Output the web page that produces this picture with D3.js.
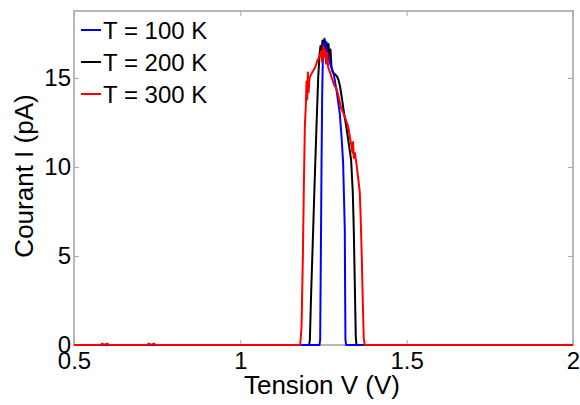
<!DOCTYPE html>
<html><head><meta charset="utf-8">
<script src="https://cdn.jsdelivr.net/npm/d3@7/dist/d3.min.js"></script>
<style>body{margin:0;background:#fff}svg{display:block}text{font-family:"Liberation Sans",Arial,sans-serif}</style>
</head><body>
<svg id="c" width="580" height="405"></svg>
<script>
const xTicks = [0.5, 1, 1.5, 2];
const yTicks = [0, 5, 10, 15];
const seriesNames = ["T = 100 K", "T = 200 K", "T = 300 K"];
const seriesColors = ["#0000ff", "#000000", "#ff0000"];

const t100 = [[0.5,0],[1.238,0],[1.240,0.3],[1.242,5],[1.244,10],[1.246,14],[1.248,16],[1.251,16.9],[1.254,17.1],[1.257,16.9],[1.262,16.4],[1.270,15.8],[1.281,15.2],[1.290,14.2],[1.299,13.0],[1.305,11.5],[1.309,10.2],[1.312,8],[1.314,6.5],[1.315,3],[1.316,0.3],[1.318,0],[2,0]];
const t200 = [[0.5,0],[1.207,0],[1.209,0.3],[1.213,3],[1.219,6.5],[1.224,9.5],[1.229,12.3],[1.234,15.0],[1.238,16.3],[1.241,16.8],[1.244,16.4],[1.247,17.1],[1.250,16.6],[1.253,17.2],[1.256,16.5],[1.259,17.0],[1.262,16.4],[1.265,16.9],[1.268,16.2],[1.271,16.6],[1.274,15.6],[1.278,15.3],[1.285,15.2],[1.290,15.1],[1.295,14.9],[1.300,14.5],[1.305,13.9],[1.312,13.0],[1.319,12.2],[1.326,11.3],[1.333,10.4],[1.338,8.6],[1.341,6.5],[1.344,3.5],[1.347,0.5],[1.349,0],[2,0]];
const t300 = [[0.5,0],[0.58,0],[0.585,0.08],[0.59,0],[0.60,0.08],[0.605,0],[0.72,0],[0.725,0.08],[0.73,0],[0.74,0.08],[0.745,0],[1.180,0],[1.184,1],[1.188,5],[1.191,9],[1.194,12.3],[1.197,13.5],[1.199,14.8],[1.201,13.8],[1.203,15.3],[1.205,14.2],[1.208,15.0],[1.213,15.2],[1.219,15.4],[1.225,15.6],[1.232,16.0],[1.238,16.2],[1.243,16.5],[1.246,15.9],[1.249,16.8],[1.252,16.2],[1.255,16.6],[1.258,15.8],[1.261,16.4],[1.264,15.6],[1.268,15.4],[1.275,15.0],[1.282,14.6],[1.289,14.4],[1.296,13.9],[1.303,13.3],[1.308,13.1],[1.314,12.8],[1.320,12.5],[1.325,12.2],[1.330,11.6],[1.334,11.2],[1.337,10.8],[1.339,11.4],[1.341,10.5],[1.344,10.8],[1.349,10.2],[1.354,9.4],[1.359,8.6],[1.362,7.0],[1.365,5.0],[1.368,2.5],[1.371,0.4],[1.374,0],[2,0]];

const margin = {left:74, right:7, top:11, bottom:60};
const W = 580, H = 405;
const svg = d3.select("#c");
const x = d3.scaleLinear().domain([0.5, 2]).range([margin.left, W - margin.right]);
const y = d3.scaleLinear().domain([0, 18.76]).range([H - margin.bottom, margin.top]);

const axisColor = "#a8a8a8";
const fs = 24;
function styleAxis(g){
  g.select(".domain").remove();
  g.selectAll(".tick line").attr("stroke", axisColor).attr("stroke-width", 1);
  g.selectAll(".tick text").attr("fill", "#000").style("font-size", fs + "px");
}
svg.append("g").attr("transform", `translate(0,${H - margin.bottom})`)
  .call(d3.axisBottom(x).tickValues(xTicks).tickSize(-5).tickPadding(7).tickFormat(d3.format("")))
  .call(styleAxis);
svg.append("g").attr("transform", `translate(0,${margin.top})`)
  .call(d3.axisTop(x).tickValues(xTicks).tickSize(-5).tickFormat(""))
  .call(styleAxis);
svg.append("g").attr("transform", `translate(${margin.left},0)`)
  .call(d3.axisLeft(y).tickValues(yTicks).tickSize(-5).tickPadding(3))
  .call(styleAxis);
svg.append("g").attr("transform", `translate(${W - margin.right},0)`)
  .call(d3.axisRight(y).tickValues(yTicks).tickSize(-5).tickFormat(""))
  .call(styleAxis);

svg.append("rect").attr("x", margin.left).attr("y", margin.top)
  .attr("width", W - margin.left - margin.right).attr("height", H - margin.top - margin.bottom)
  .attr("fill", "none").attr("stroke", axisColor).attr("stroke-width", 1.6);

const line = d3.line().x(d => x(d[0])).y(d => y(d[1]));
const data = [t100, t200, t300];
[1, 0, 2].forEach(i => {
  svg.append("path").datum(data[i]).attr("d", line)
    .attr("fill", "none").attr("stroke", seriesColors[i]).attr("stroke-width", 2)
    .attr("stroke-linejoin", "round");
});

const leg = svg.append("g");
seriesNames.forEach((n, i) => {
  const yy = 30 + i * 32;
  leg.append("line").attr("x1", 81).attr("x2", 101).attr("y1", yy).attr("y2", yy)
    .attr("stroke", seriesColors[i]).attr("stroke-width", 2);
  leg.append("text").attr("x", 103).attr("y", yy).attr("dy", "0.36em")
    .style("font-size", "24px").text(n);
});

svg.append("text").attr("x", 322).attr("y", 394)
  .attr("text-anchor", "middle").style("font-size", "26px").text("Tension V (V)");
svg.append("text").attr("transform", `translate(33,176) rotate(-90)`)
  .attr("text-anchor", "middle").style("font-size", "26px").text("Courant I (pA)");
</script>
</body></html>
